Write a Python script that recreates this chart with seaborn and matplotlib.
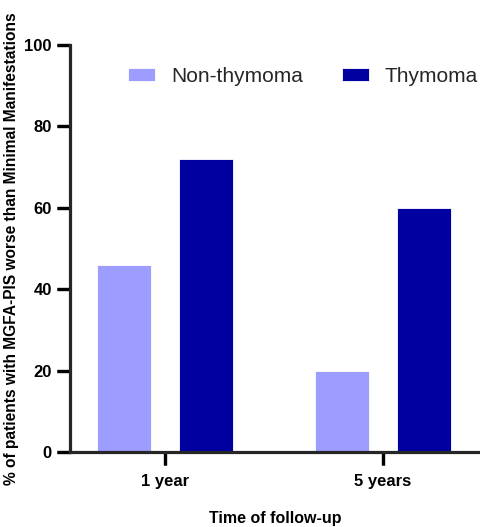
import matplotlib
matplotlib.use("Agg")
import matplotlib.pyplot as plt
import pandas as pd
import seaborn as sns
from matplotlib.patches import Rectangle

# values
timepoints = ["1 year", "5 years"]
groups = ["Non-thymoma", "Thymoma"]
non_thymoma = [46, 20]
thymoma = [72, 60]
palette = {"Non-thymoma": "#9d9dff", "Thymoma": "#0000a0"}

df = pd.DataFrame({
    "time": timepoints * 2,
    "group": [groups[0]] * 2 + [groups[1]] * 2,
    "value": non_thymoma + thymoma,
})

sns.set_style("ticks")
plt.rcParams["font.family"] = ["Liberation Sans", "DejaVu Sans"]
plt.rcParams["axes.linewidth"] = 2.3
plt.rcParams["xtick.major.size"] = 9.5
plt.rcParams["ytick.major.size"] = 9.5
plt.rcParams["xtick.major.width"] = 2.3
plt.rcParams["ytick.major.width"] = 2.3
plt.rcParams["xtick.labelsize"] = 12
plt.rcParams["ytick.labelsize"] = 12

fig = plt.figure(figsize=(4.8, 5.27), dpi=100)
ax = fig.add_axes([70 / 480, 75 / 527, 410 / 480, 407 / 527])

sns.barplot(data=df, x="time", y="value", hue="group", order=timepoints,
            hue_order=groups, palette=palette, width=0.752, gap=0.34,
            saturation=1, edgecolor="white", linewidth=0.6, ax=ax)

ax.set_xlim(-0.436, 1.445)
ax.set_ylim(0, 100)
ax.set_yticks([0, 20, 40, 60, 80, 100])
sns.despine(ax=ax)

ax.tick_params(axis="both", direction="out", length=9.5, width=2.3, color="black")
ax.tick_params(axis="x", pad=6)
for lab in ax.get_xticklabels() + ax.get_yticklabels():
    lab.set_fontweight("bold")
    lab.set_color("black")

ax.set_xlabel("Time of follow-up", fontsize=11.5, fontweight="bold",
              labelpad=16, color="black")
ax.set_ylabel("% of patients with MGFA-PIS worse than Minimal Manifestations",
              fontsize=11.2, fontweight="bold", labelpad=4, color="black")

handles, labels = ax.get_legend_handles_labels()
ax.legend(handles, labels, loc="center left", frameon=False, ncol=2,
          fontsize=15, handlelength=1.3, handleheight=0.63, handletextpad=0.77,
          columnspacing=1.85, borderpad=0, borderaxespad=0,
          bbox_to_anchor=(0.1415, 0.9226))

# tick marks as small patches at the axis' own tick positions, so they show
# even if the native markers are dropped
tick_w = 9.5 * 100 / 72
tick_h = 2.3 * 100 / 72
for yt in ax.get_yticks():
    ax.add_patch(Rectangle((-tick_w / 410, 0), tick_w / 410, 0,
                           transform=ax.get_yaxis_transform(), clip_on=False,
                           facecolor="black", edgecolor="black",
                           linewidth=2.3))
    ax.patches[-1].set_xy((-tick_w / 410, yt))
for xt in ax.get_xticks():
    ax.add_patch(Rectangle((xt, -tick_w / 407), 0, tick_w / 407,
                           transform=ax.get_xaxis_transform(), clip_on=False,
                           facecolor="black", edgecolor="black",
                           linewidth=2.3))

fig.canvas.draw()
fig.savefig("out.png", dpi=100)
